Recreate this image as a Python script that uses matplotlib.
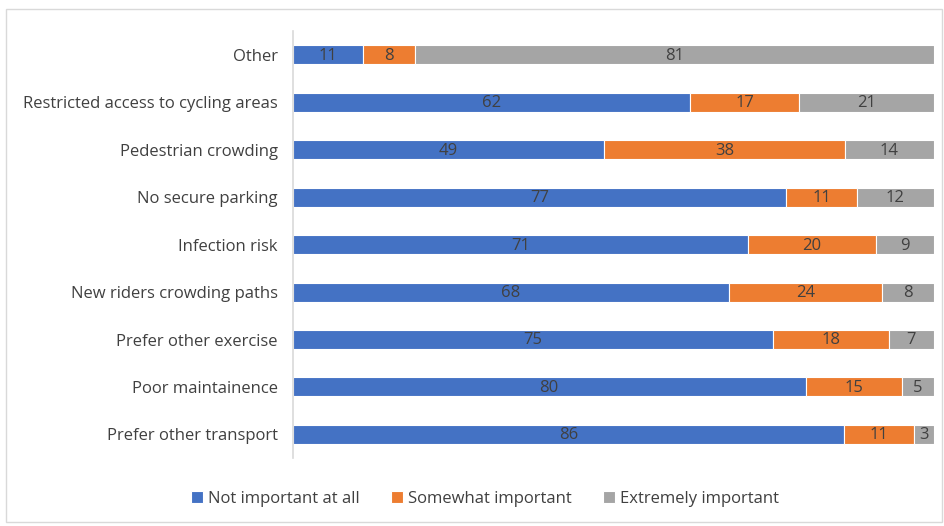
import numpy as np
import matplotlib.pyplot as plt
from matplotlib.patches import Rectangle

plt.rcParams['font.family'] = ['Open Sans', 'DejaVu Sans']

categories = ['Prefer other transport', 'Poor maintainence', 'Prefer other exercise',
              'New riders crowding paths', 'Infection risk', 'No secure parking',
              'Pedestrian crowding', 'Restricted access to cycling areas', 'Other']
not_important = [86, 80, 75, 68, 71, 77, 49, 62, 11]
somewhat = [11, 15, 18, 24, 20, 11, 38, 17, 8]
extremely = [3, 5, 7, 8, 9, 12, 14, 21, 81]

series_names = ['Not important at all', 'Somewhat important', 'Extremely important']
colors = ['#4472C4', '#ED7D31', '#A5A5A5']
txt = '#404040'

data = np.array([not_important, somewhat, extremely], dtype=float)
totals = data.sum(axis=0)
pct = data / totals * 100

fig = plt.figure(figsize=(9.45, 5.26), dpi=100)
ax = fig.add_axes([0.310, 0.129, 0.678, 0.812])

y = np.arange(len(categories))
left = np.zeros(len(categories))
for i in range(3):
    bars = ax.barh(y, pct[i], left=left, height=0.4, color=colors[i],
                   edgecolor='white', linewidth=0.8, label=series_names[i])
    for j, b in enumerate(bars):
        ax.text(left[j] + pct[i][j] / 2, y[j] - 0.02, str(int(data[i][j])),
                ha='center', va='center', fontsize=12, color=txt)
    left += pct[i]

ax.set_xlim(0, 100)
ax.set_ylim(-0.5, len(categories) - 0.5)
ax.set_yticks(y)
ax.set_yticklabels(categories, fontsize=12, color=txt)
ax.tick_params(axis='y', length=0, pad=11)
ax.set_xticks([])
for s in ['top', 'right', 'bottom']:
    ax.spines[s].set_visible(False)
ax.spines['left'].set_color('#D9D9D9')
ax.spines['left'].set_linewidth(1.2)

fig.legend(loc='center', bbox_to_anchor=(0.513, 0.052), ncol=3, frameon=False,
           fontsize=12, handlelength=0.7, handleheight=0.7, handletextpad=0.3,
           columnspacing=1.9, labelcolor=txt)

fig.patches.append(Rectangle((0.006, 0.008), 0.991, 0.975, transform=fig.transFigure,
                             fill=False, edgecolor='#D9D9D9', linewidth=1))

fig.savefig('out.png', dpi=100)
